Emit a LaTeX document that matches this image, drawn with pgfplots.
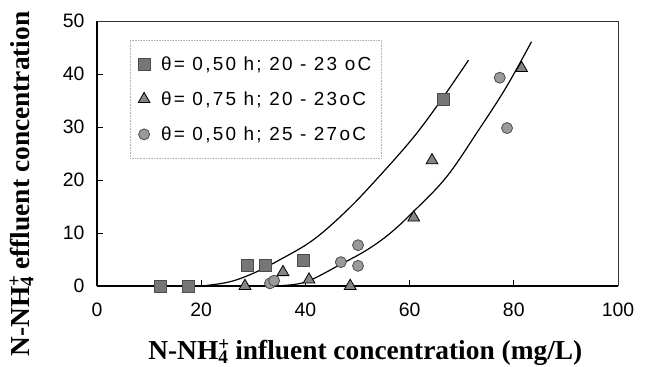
\documentclass[border=0pt]{standalone}
\usepackage{fontspec}
\setmainfont{Liberation Serif}
\newfontfamily\sansf{Liberation Sans}
\newfontfamily\legf[LetterSpace=12]{Liberation Sans}
\usepackage{pgfplots}
\pgfplotsset{compat=1.18}
\usetikzlibrary{calc}
\definecolor{sqfill}{HTML}{767676}
\definecolor{trfill}{HTML}{858585}
\definecolor{cifill}{HTML}{9A9A9A}
\begin{document}
\begin{tikzpicture}
\begin{axis}[
  scale only axis,
  width=521bp, height=265bp,
  xmin=0, xmax=100, ymin=0, ymax=50,
  xtick={0,20,...,100}, ytick={0,10,...,50},
  axis x line*=bottom, axis y line*=left,
  axis line style={line width=1.3bp, -},
  tick align=inside, major tick length=6bp,
  tick style={line width=1bp, black},
  /pgf/number format/assume math mode=true,
  ticklabel style={font=\fontsize{19.5}{21}\sansf},
  xticklabel style={yshift=-13bp},
  yticklabel style={xshift=-9bp},
  xlabel={\textbf{N-NH\makebox[0pt][l]{\textsuperscript{+}}\textsubscript{4} influent concentration (mg/L)}},
  ylabel={\textbf{N-NH\makebox[0pt][l]{\textsuperscript{+}}\textsubscript{4} effluent concentration}},
  label style={font=\fontsize{27.5}{29}\selectfont},
  xlabel style={at={(axis description cs:0.515,-0.25)}, anchor=center},
  ylabel style={at={(axis description cs:-0.145,0.385)}, anchor=center, rotate=0},
  clip=false,
  legend style={at={(0.063,0.928)}, anchor=north west, draw=gray!60, densely dotted,
    line width=0.6bp, font=\fontsize{19}{20}\legf, row sep=16bp,
    inner xsep=8bp, inner ysep=14bp, legend cell align=left},
]
\addplot[forget plot, black, line width=1.2bp, smooth, tension=0.6] coordinates {
 (21,0.1) (25.5,0.8) (30,2.4) (35,4.9) (41.5,8.7) (48,14.3) (54,20.5) (60.7,28) (66,35) (71.3,42.6)};
\addplot[forget plot, black, line width=1.2bp, smooth, tension=0.6] coordinates {
 (35.5,0.1) (40.2,0.8) (46.6,4.0) (51.8,6.8) (56.2,9.9) (60.7,14) (67.1,20.6) (73.3,29.5) (78.6,37.6) (83.4,46.1)};
\addplot[only marks, mark=square*, mark size=6bp, mark options={solid, fill=sqfill, draw=black!70, line width=0.8bp}] coordinates {
 (12.1,0) (17.6,0) (28.8,3.9) (32.4,3.9) (39.6,4.8) (66.4,35.2)};
\addlegendentry{\hspace{9bp}θ= 0,50 h; 20 - 23 oC}
\addplot[only marks, mark=triangle*, mark size=6.8bp, mark options={solid, fill=trfill, draw=black, line width=0.8bp}] coordinates {
 (28.4,0) (35.7,2.6) (40.7,1.2) (48.6,0) (60.8,12.9) (64.3,23.7) (81.5,41.1)};
\addlegendentry{\hspace{9bp}θ= 0,75 h; 20 - 23oC}
\addplot[only marks, mark=*, mark size=5.5bp, mark options={solid, fill=cifill, draw=black!70, line width=0.8bp}] coordinates {
 (33.2,0.5) (34,1.0) (46.8,4.5) (50.1,3.8) (50.1,7.7) (77.3,39.3) (78.7,29.8)};
\addlegendentry{\hspace{9bp}θ= 0,50 h; 25 - 27oC}
\draw[line width=0.9bp, black!80] (rel axis cs:0,1) -- (rel axis cs:1,1) -- (rel axis cs:1,0);
\end{axis}
\pgfresetboundingbox
\path[use as bounding box] ($(current axis.south west)+(-97bp,-81bp)$) rectangle ($(current axis.north east)+(28bp,21bp)$);
\end{tikzpicture}
\end{document}
